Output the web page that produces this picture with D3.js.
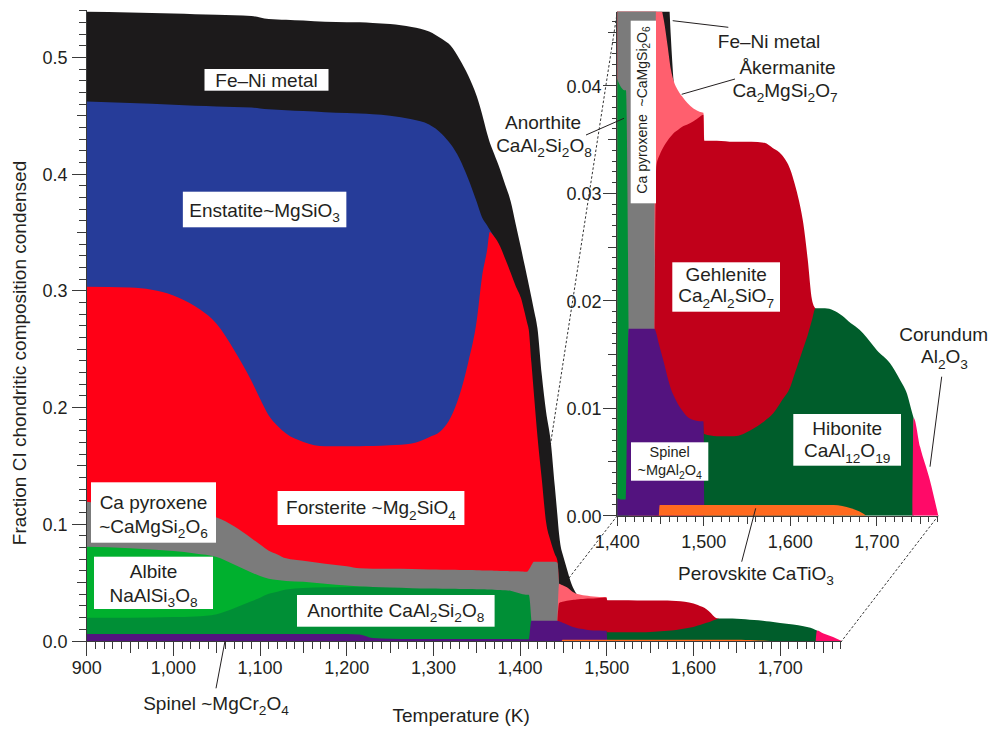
<!DOCTYPE html>
<html><head><meta charset="utf-8">
<script src="https://cdn.jsdelivr.net/npm/d3@7"></script>
<style>
html,body{margin:0;padding:0;background:#fff;}
svg{display:block;font-family:"Liberation Sans",Arial,Helvetica,sans-serif;}
</style></head><body>
<svg id="chart" width="992" height="729"></svg>
<script>
// ---------------- DATA (fraction of CI composition condensed, per mineral) ----------------
const temperatures = [900,950,1000,1025,1050,1070,1090,1100,1110,1120,1130,1150,1175,1200,1215,1230,1250,1275,1295,1310,1320,1330,1340,1350,1356,1362,1365,1370,1377,1383,1389,1395,1401,1405,1408,1410,1413,1416,1420,1425,1430,1435,1440,1443,1445,1448,1449,1454,1458,1462,1465,1470,1475,1481,1488,1495,1499.5,1500.5,1515,1535,1555,1570,1580,1590,1600,1605,1610,1615,1620,1625,1629,1640,1650,1660,1670,1680,1688,1700,1715,1727,1735,1741,1742.5,1750,1761,1771];

const perovskite = [0,0,0,0,0,0,0,0,0,0, 0,0,0,0,0,0,0,0,0,0, 0,0,0,0,0,0,0,0,0,0, 0,0,0,0,0,0,0,0,0,0, 0,0,0,0,0,0,.001,.001,.001,.001, .001,.001,.001,.001,.001,.001,.001,.001,.001,.001, .001,.001,.001,.001,.001,.001,.001,.001,.001,.001, .001,.001,.001,.0009,.0007,.0004,0,0,0,0, 0,0,0,0,0,0];
const corundum = [0,0,0,0,0,0,0,0,0,0, 0,0,0,0,0,0,0,0,0,0, 0,0,0,0,0,0,0,0,0,0, 0,0,0,0,0,0,0,0,0,0, 0,0,0,0,0,0,0,0,0,0, 0,0,0,0,0,0,0,0,0,0, 0,0,0,0,0,0,0,0,0,0, 0,0,0,0,0,0,0,0,0,0, 0,0,.0091,.0064,.0034,0];
const spinel = [.006,.006,.006,.006,.006,.006,.006,.006,.006,.006, .006,.006,.006,.006,.0055,.0025,.002,.0018,.0018,.0018, .0018,.0018,.0018,.0018,.0018,.0018,.0018,.0018,.0018,.0018, .0018,.0017,.0016,.0015,.0015,.0015,.0174,.0174,.0174,.0174, .0174,.0174,.0174,.0174,.017,.016,.0147,.0132,.0119,.0108, .0102,.0094,.0088,.0082,.0079,.0078,.0078,0,0,0, 0,0,0,0,0,0,0,0,0,0, 0,0,0,0,0,0,0,0,0,0, 0,0,0,0,0,0];
const anorthite = [.014,.014,.0145,.015,.017,.022,.028,.0311,.0344,.0363, .0382,.0395,.04,.0403,.0409,.0437,.0438,.0435,.0432,.043, .0429,.0428,.0427,.0426,.0425,.0424,.0423,.0422,.0419,.0416, .0412,.0401,.0388,.0383,.0381,.0381,0,0,0,0, 0,0,0,0,0,0,0,0,0,0, 0,0,0,0,0,0,0,0,0,0, 0,0,0,0,0,0,0,0,0,0, 0,0,0,0,0,0,0,0,0,0, 0,0,0,0,0,0];
const albite = [.0607,.0595,.0565,.054,.049,.0375,.0247,.0186,.013,.0099, .0073,.0052,.003,.0012,.0002,0,0,0,0,0, 0,0,0,0,0,0,0,0,0,0, 0,0,0,0,0,0,0,0,0,0, 0,0,0,0,0,0,0,0,0,0, 0,0,0,0,0,0,0,0,0,0, 0,0,0,0,0,0,0,0,0,0, 0,0,0,0,0,0,0,0,0,0, 0,0,0,0,0,0];
const hibonite = [0,0,0,0,0,0,0,0,0,0, 0,0,0,0,0,0,0,0,0,0, 0,0,0,0,0,0,0,0,0,0, 0,0,0,0,0,0,0,0,0,0, 0,0,0,0,0,0,0,0,0,0, 0,0,0,0,0,0,0,.0066,.0064,.0064, .007,.0078,.0085,.0097,.011,.0122,.0134,.0146,.0158,.0172, .0183,.0183,.0181,.0177,.0172,.0169,.0166,.0154,.0142,.0126, .0113,.0095,0,0,0,0];
const gehlenite = [0,0,0,0,0,0,0,0,0,0, 0,0,0,0,0,0,0,0,0,0, 0,0,0,0,0,0,0,0,0,0, 0,0,0,0,0,0,0,0,0,0, 0,0,0,0,.0155,.0174,.0179,.0202,.022,.0235, .0244,.0255,.0264,.0272,.0278,.0283,.0285,.0273,.0275,.0274, .0268,.0259,.0247,.0229,.0202,.0177,.0149,.0116,.0071,.0019, 0,0,0,0,0,0,0,0,0,0, 0,0,0,0,0,0];
const akermanite = [0,0,0,0,0,0,0,0,0,0, 0,0,0,0,0,0,0,0,0,0, 0,0,0,0,0,0,0,0,0,0, 0,0,0,0,0,0,0,0,0,0, 0,0,0,0,.0165,.0146,.0142,.0116,.0089,.0062, .0049,.0037,.0028,.002,.0012,.0005,.0002,0,0,0, 0,0,0,0,0,0,0,0,0,0, 0,0,0,0,0,0,0,0,0,0, 0,0,0,0,0,0];
const caPyroxene = [.0385,.0355,.034,.0337,.0338,.0328,.0294,.027,.024,.022, .0193,.018,.0172,.0165,.0157,.0158,.016,.0163,.0163,.0163, .0163,.0163,.0163,.0162,.0162,.0162,.0162,.0162,.0163,.0165, .0168,.0179,.0191,.0196,.0197,.0214,.0476,.0506,.0506,.0506, .0506,.0506,.0506,.0496,0,0,0,0,0,0, 0,0,0,0,0,0,0,0,0,0, 0,0,0,0,0,0,0,0,0,0, 0,0,0,0,0,0,0,0,0,0, 0,0,0,0,0,0];
const forsterite = [.1843,.1878,.185,.178,.1657,.1511,.1349,.1248,.1158,.1102, .1069,.1018,.1006,.1028,.1046,.105,.1059,.1076,.1132,.1198, .1306,.1496,.1774,.2141,.2512,.275,.2902,.2863,.278,.2671, .2559,.2443,.2343,.2228,.2136,.2057,.1735,.143,.1075,.0706, .0337,.0181,.0066,.002,0,0,0,0,0,0, 0,0,0,0,0,0,0,0,0,0, 0,0,0,0,0,0,0,0,0,0, 0,0,0,0,0,0,0,0,0,0, 0,0,0,0,0,0];
const enstatite = [.1588,.1582,.1635,.1718,.1865,.2081,.234,.2488,.2624,.2708, .2771,.2835,.2863,.2855,.2851,.2843,.2824,.2778,.268,.2533, .2339,.2029,.1581,.1013,.0513,.0206,.0018,0,0,0, 0,0,0,0,0,0,0,0,0,0, 0,0,0,0,0,0,0,0,0,0, 0,0,0,0,0,0,0,0,0,0, 0,0,0,0,0,0,0,0,0,0, 0,0,0,0,0,0,0,0,0,0, 0,0,0,0,0,0];
const feNiMetal = [.0767,.0775,.078,.0785,.0785,.0785,.0785,.0779,.0772,.0773, .0774,.0775,.0774,.0779,.078,.0782,.0785,.0791,.0797,.0815, .0844,.0853,.0884,.0906,.0887,.0786,.0748,.071,.0658,.0634, .0613,.0528,.0428,.0405,.0393,.0385,.056,.0724,.0925,.0894, .0945,.0869,.0581,.039,.0423,.0292,.0268,.0157,.0079,.0029, 0,0,0,0,0,0,0,0,0,0, 0,0,0,0,0,0,0,0,0,0, 0,0,0,0,0,0,0,0,0,0, 0,0,0,0,0,0];

const mainXTicks = [900,1000,1100,1200,1300,1400,1500,1600,1700];
const mainYTicks = [0,0.1,0.2,0.3,0.4,0.5];
const insetXTicks = [1400,1500,1600,1700];
const insetYTicks = [0,0.01,0.02,0.03,0.04];

// ---------------- SETUP ----------------
const keys = ['perovskite','corundum','spinel','anorthite','albite','hibonite','gehlenite','akermanite','caPyroxene','forsterite','enstatite','feNiMetal'];
const seriesData = {perovskite,corundum,spinel,anorthite,albite,hibonite,gehlenite,akermanite,caPyroxene,forsterite,enstatite,feNiMetal};
const colors = {
  perovskite:'#ff6a1f', corundum:'#ff0a68', spinel:'#53137f', anorthite:'#008f36',
  albite:'#00b02e', hibonite:'#005d2b', gehlenite:'#c1001a', akermanite:'#ff5f6e',
  caPyroxene:'#7b7b7b', forsterite:'#ff0016', enstatite:'#263c99', feNiMetal:'#1c1a1b'
};
const rows = temperatures.map((T,i) => { const r = {T}; keys.forEach(k => r[k] = seriesData[k][i]); return r; });
const stacked = d3.stack().keys(keys)(rows);

const svg = d3.select('#chart');
svg.append('rect').attr('width',992).attr('height',729).attr('fill','#fff');
const ink = '#231f20', axisCol = '#3a3a3a';

const mx = d3.scaleLinear().domain([900,1771]).range([86.7,841.7]);
const my = d3.scaleLinear().domain([0,0.54]).range([641,10.7]);
const ix = d3.scaleLinear().domain([1400,1771]).range([617.3,938.3]);
const iy = d3.scaleLinear().domain([0,0.0469]).range([515.7,11.7]);

function drawAreas(g, sx, sy){
  for (let k = stacked.length-1; k >= 0; k--){
    const s = stacked[k];
    const th = i => (i>=0 && i<s.length) ? s[i][1]-s[i][0] : 0;
    const area = d3.area()
      .defined((d,i) => th(i)>1e-9 || th(i-1)>1e-9 || th(i+1)>1e-9)
      .x(d => sx(d.data.T)).y0(sy(0)).y1(d => sy(d[1]))
      .curve(d3.curveMonotoneX);
    g.append('path').attr('d', area(s)).attr('fill', colors[s.key]);
  }
}

function richText(g, str, x, y, size, anchor){
  const t = g.append('text').attr('x',x).attr('y',y).attr('font-size',size)
    .attr('text-anchor',anchor||'middle').attr('fill',ink);
  const parts = str.split(/(_[0-9]+)/).filter(p => p.length);
  let shifted = false;
  parts.forEach(p => {
    if (p[0]==='_'){
      t.append('tspan').attr('font-size',size*0.72).attr('dy', shifted?0:size*0.28).text(p.slice(1));
      shifted = true;
    } else {
      const ts = t.append('tspan').text(p);
      if (shifted){ ts.attr('dy', -size*0.28); shifted=false; }
    }
  });
  return t;
}

// ---------------- zoom connector lines (under fills) ----------------
const conn = svg.append('g').attr('stroke','#333').attr('stroke-width',1).attr('stroke-dasharray','2.5,2').attr('fill','none');
conn.append('line').attr('x1',ix(1400)).attr('y1',iy(0.0469)).attr('x2',mx(1400)).attr('y2',my(0));
conn.append('line').attr('x1',ix(1400)).attr('y1',iy(0)).attr('x2',mx(1400)).attr('y2',my(0));
conn.append('line').attr('x1',ix(1771)).attr('y1',iy(0)).attr('x2',mx(1771)).attr('y2',my(0));

// ---------------- main chart ----------------
const gMain = svg.append('g');
drawAreas(gMain, mx, my);

const axM = svg.append('g').attr('stroke',axisCol).attr('stroke-width',1).attr('shape-rendering','crispEdges');
axM.append('line').attr('x1',mx(900)).attr('x2',mx(1771)).attr('y1',my(0)+0.5).attr('y2',my(0)+0.5);
axM.append('line').attr('x1',mx(900)-0.5).attr('x2',mx(900)-0.5).attr('y1',my(0.54)).attr('y2',my(0));
d3.range(900,1771,10).forEach(t => {
  const len = t%100===0 ? 15 : (t%50===0 ? 11.5 : 8);
  axM.append('line').attr('x1',mx(t)).attr('x2',mx(t)).attr('y1',my(0)).attr('y2',my(0)+len);
});
d3.range(0,55,1).forEach(j => {
  const v = j/100, len = j%10===0 ? 15 : (j%5===0 ? 10 : 7.5);
  axM.append('line').attr('x1',mx(900)-len).attr('x2',mx(900)).attr('y1',my(v)).attr('y2',my(v));
});
const tl = svg.append('g').attr('fill',ink).attr('font-size',18);
mainXTicks.forEach(t => tl.append('text').attr('x',mx(t)).attr('y',674).attr('text-anchor','middle').text(d3.format(',')(t)));
mainYTicks.forEach(v => tl.append('text').attr('x',67.5).attr('y',my(v)+6.5).attr('text-anchor','end').text(d3.format('.1f')(v)));
svg.append('text').attr('x',mx(900)+(mx(1771)-mx(900))/2-3).attr('y',722).attr('text-anchor','middle')
  .attr('font-size',19).attr('fill',ink).text('Temperature (K)');
svg.append('text').attr('transform','translate(25.5,353) rotate(-90)').attr('text-anchor','middle')
  .attr('font-size',19).attr('fill',ink).text('Fraction CI chondritic composition condensed');

// ---------------- inset ----------------
svg.append('defs').append('clipPath').attr('id','insetClip').append('rect')
  .attr('x',ix(1400)).attr('y',iy(0.0469)).attr('width',ix(1771)-ix(1400)).attr('height',iy(0)-iy(0.0469));
const gIn = svg.append('g').attr('clip-path','url(#insetClip)');
drawAreas(gIn, ix, iy);

const axI = svg.append('g').attr('stroke',axisCol).attr('stroke-width',1).attr('shape-rendering','crispEdges');
axI.append('line').attr('x1',ix(1400)).attr('x2',ix(1771)).attr('y1',iy(0)+0.5).attr('y2',iy(0)+0.5);
axI.append('line').attr('x1',ix(1400)-0.5).attr('x2',ix(1400)-0.5).attr('y1',iy(0.0469)).attr('y2',iy(0));
d3.range(1400,1771,10).forEach(t => {
  const len = t%100===0 ? 10 : (t%50===0 ? 8 : 6);
  axI.append('line').attr('x1',ix(t)).attr('x2',ix(t)).attr('y1',iy(0)).attr('y2',iy(0)+len);
});
d3.range(0,47,1).forEach(j => {
  const v = j/1000, len = j%10===0 ? 14 : (j%5===0 ? 9 : 5.5);
  axI.append('line').attr('x1',ix(1400)-len).attr('x2',ix(1400)).attr('y1',iy(v)).attr('y2',iy(v));
});
insetXTicks.forEach(t => tl.append('text').attr('x',ix(t)).attr('y',548).attr('text-anchor','middle').text(d3.format(',')(t)));
insetYTicks.forEach(v => tl.append('text').attr('x',601.5).attr('y',iy(v)+7).attr('text-anchor','end').text(d3.format('.2f')(v)));

// ---------------- boxed labels ----------------
const boxed = [
  {lines:['Fe–Ni metal'], cx:266.5, cy:79.85, w:124, h:21.7, base:[86.7]},
  {lines:['Enstatite~MgSiO_3'], cx:264.6, cy:209.5, w:163.5, h:35.6, base:[216.7]},
  {lines:['Ca pyroxene','~CaMgSi_2O_6'], cx:153.5, cy:512.5, w:125, h:60.4, base:[509.3,532.5]},
  {lines:['Forsterite ~Mg_2SiO_4'], cx:371, cy:508, w:186.8, h:34, base:[514.3]},
  {lines:['Albite','NaAlSi_3O_8'], cx:153.5, cy:582.85, w:119, h:52.3, base:[578.3,601.7]},
  {lines:['Anorthite CaAl_2Si_2O_8'], cx:395.8, cy:610.85, w:197.6, h:31.7, base:[616.7]},
  {lines:['Gehlenite','Ca_2Al_2SiO_7'], cx:726.15, cy:287, w:107.7, h:49.4, base:[281,302.3]},
  {lines:['Spinel','~MgAl_2O_4'], cx:669.65, cy:461.5, w:77.3, h:38.4, base:[456.7,475], size:14.5},
  {lines:['Hibonite','CaAl_12O_19'], cx:847.15, cy:439.85, w:107.7, h:51.7, base:[435,457.3]}
];
const gLab = svg.append('g');
boxed.forEach(b => {
  gLab.append('rect').attr('x',b.cx-b.w/2).attr('y',b.cy-b.h/2).attr('width',b.w).attr('height',b.h).attr('fill','#fff');
  b.lines.forEach((ln,i) => richText(gLab, ln, b.cx, b.base[i], b.size||19));
});
// rotated Ca pyroxene label in inset
gLab.append('rect').attr('x',630.7).attr('y',20.7).attr('width',25.3).attr('height',182.6).attr('fill','#fff');
const rot = gLab.append('g').attr('transform','translate(646.5,110) rotate(-90)');
richText(rot, 'Ca pyroxene\u00a0 ~CaMgSi_2O_6', 0, 0, 14);

// ---------------- free labels + leaders ----------------
const lead = svg.append('g').attr('stroke',ink).attr('stroke-width',1);
[[216,688.3,225,641],[672.7,20.7,728.3,27.3],[681.7,94.3,735,79],[586,135,624,118.3],[941.7,376.7,930,466.7],[741.7,561.7,755.7,508.3]]
  .forEach(l => lead.append('line').attr('x1',l[0]).attr('y1',l[1]).attr('x2',l[2]).attr('y2',l[3]));
const free = [
  ['Fe–Ni metal',769,48],['Åkermanite',787.5,74],['Ca_2MgSi_2O_7',785,96.5],
  ['Anorthite',543,129.3],['CaAl_2Si_2O_8',544,151.7],
  ['Corundum',943.7,340.7],['Al_2O_3',944.5,363.3],
  ['Perovskite CaTiO_3',756,580],['Spinel ~MgCr_2O_4',216,710]
];
free.forEach(f => richText(gLab, f[0], f[1], f[2], 19));
</script>
</body></html>
